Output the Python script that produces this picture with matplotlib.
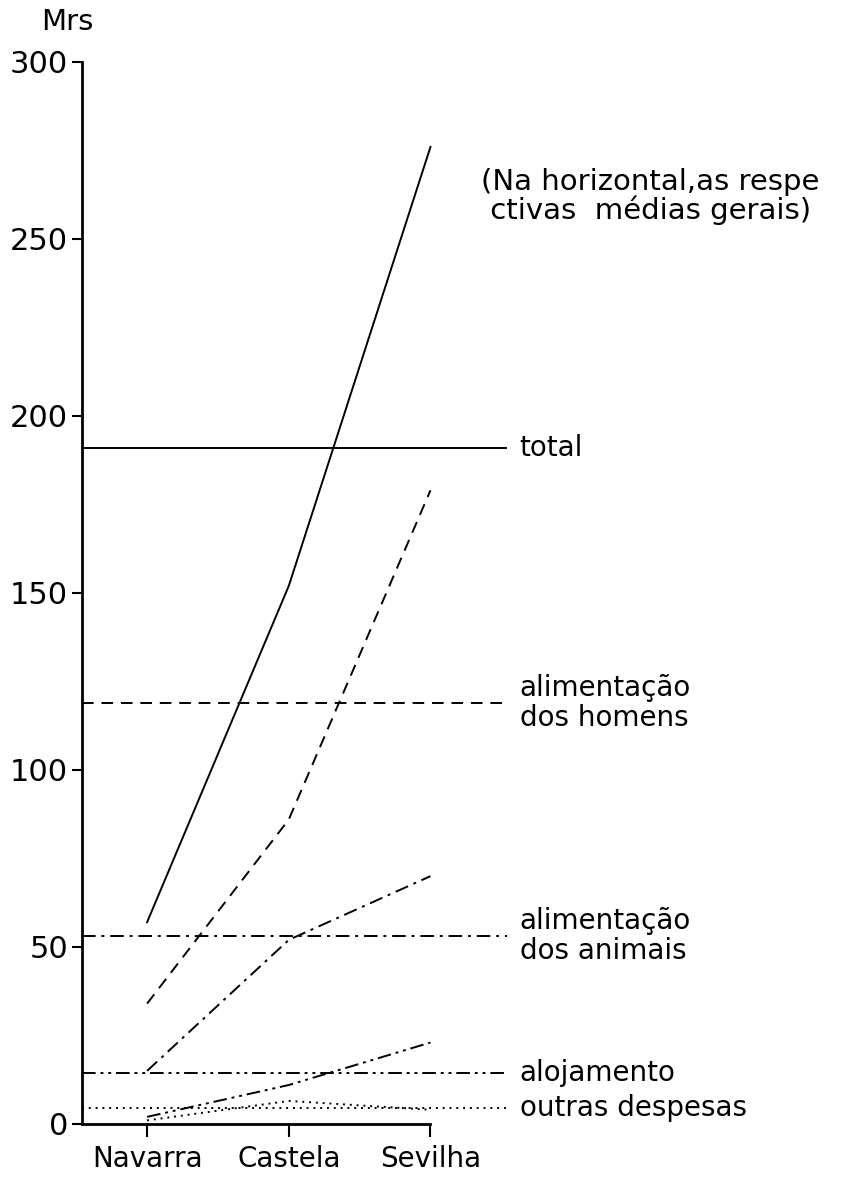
import matplotlib.pyplot as plt

regions = ["Navarra", "Castela", "Sevilha"]

# valores por região (Mrs)
total = [57, 152, 276]
homens = [34, 86, 179]
animais = [15, 52, 70]
alojamento = [2, 11, 23]
outras = [1, 6.5, 4]

# médias gerais (linhas horizontais)
medias = [191, 119, 53, 14.5, 4.5]
labels = ["total", "alimentação\ndos homens", "alimentação\ndos animais",
          "alojamento", "outras despesas"]

series = [total, homens, animais, alojamento, outras]
styles = ["-", (0, (6, 4)), (0, (7, 3, 1.5, 3)),
          (0, (7, 2.5, 1.5, 2.5, 1.5, 2.5)), (0, (1, 2.5))]

plt.rcParams['font.family'] = ['DejaVu Sans']

fig = plt.figure(figsize=(8.49, 11.8), dpi=100)
ax = fig.add_axes([0.0965, 0.0475, 0.504, 0.9])

x = list(range(len(regions)))
xmin, xmax = -0.46, 2.56

for s, ls in zip(series, styles):
    ax.plot(x, s, color="black", lw=1.4, linestyle=ls)

for m, lab, ls in zip(medias, labels, styles):
    ax.hlines(m, xmin, 2.54, color="black", lw=1.4, linestyles=[ls])
    ax.text(2.63, m, lab, fontsize=20, va="center", ha="left",
            linespacing=1.1, clip_on=False)

ax.text(2.36, 262, "(Na horizontal,as respe\n ctivas  médias gerais)",
        fontsize=21, va="center", ha="left", linespacing=1.0, clip_on=False)

ax.set_xlim(xmin, xmax)
ax.set_ylim(0, 300)
ax.set_xticks(x)
ax.set_xticklabels(regions, fontsize=20)
ax.set_yticks([0, 50, 100, 150, 200, 250, 300])
ax.tick_params(axis="y", labelsize=22, length=7, width=1.5, direction="out", pad=3)
ax.tick_params(axis="x", length=9, width=1.5, direction="out", pad=6)

ax.spines['top'].set_visible(False)
ax.spines['right'].set_visible(False)
ax.spines['left'].set_linewidth(2)
ax.spines['bottom'].set_linewidth(2)
ax.spines['bottom'].set_bounds(xmin, 2)

fig.text(67 / 849, 1 - 22 / 1180, "Mrs", fontsize=21, ha="center", va="center")

plt.savefig("out.png", dpi=100)
